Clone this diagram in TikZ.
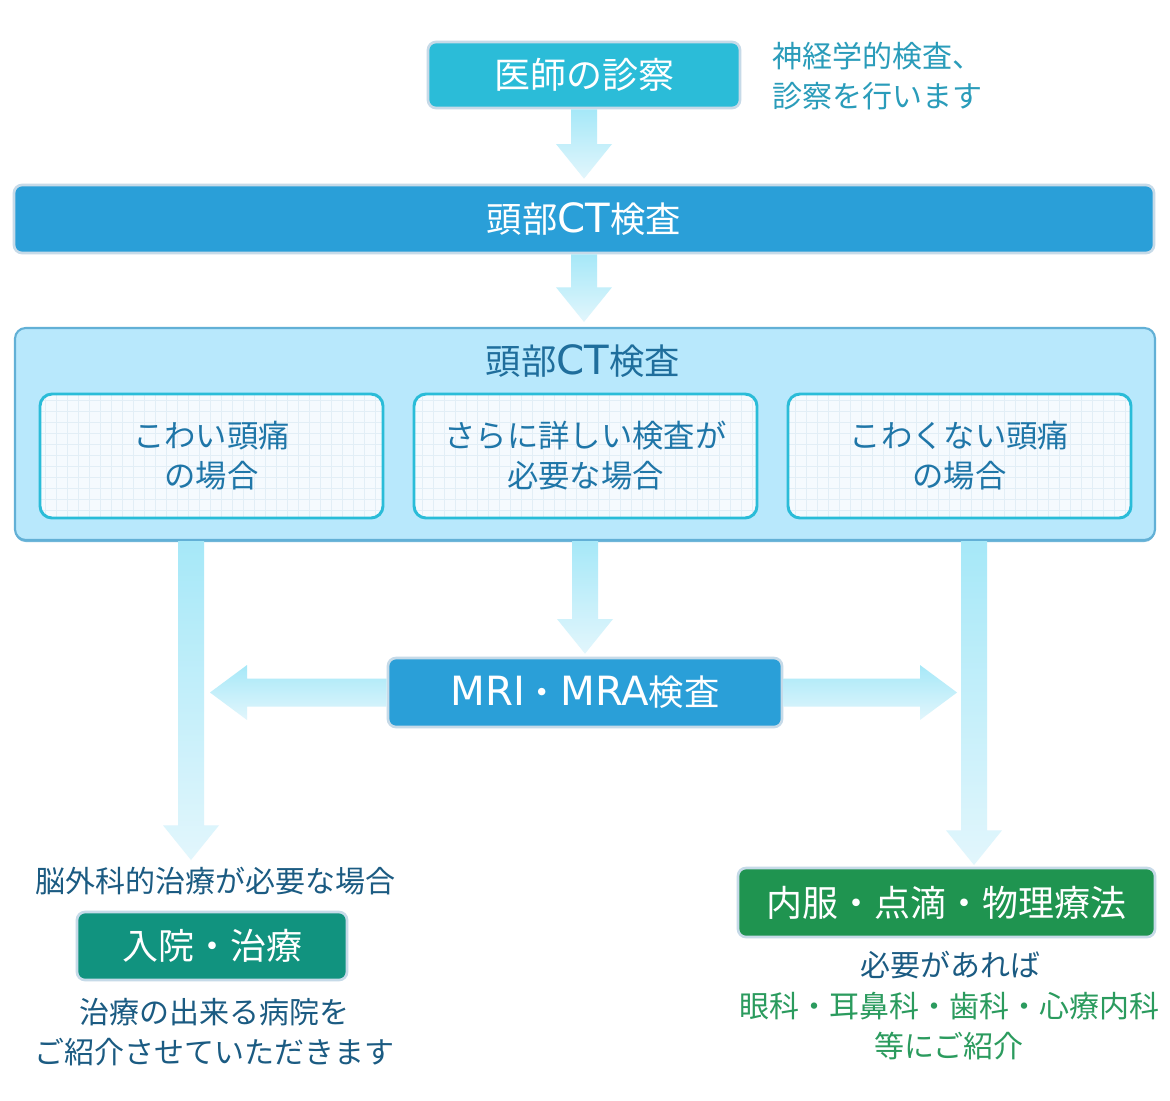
\documentclass[tikz,border=0pt]{standalone}
\usepackage{fontspec}
\setmainfont{Noto Sans CJK JP}
\newfontfamily\latinf[Scale=1.14]{DejaVu Sans}
\usetikzlibrary{calc,shadows}
\definecolor{docc}{HTML}{2BBCD8}
\definecolor{ctblue}{HTML}{2A9FD8}
\definecolor{haloc}{HTML}{C6DAE8}
\definecolor{bigfill}{HTML}{B8E8FC}
\definecolor{bigborder}{HTML}{62B0D6}
\definecolor{innerborder}{HTML}{2ABCD8}
\definecolor{innerfill}{HTML}{F5FAFE}
\definecolor{gridc}{HTML}{E2EEF6}
\definecolor{innertext}{HTML}{1F76A8}
\definecolor{titletext}{HTML}{1F6E9C}
\definecolor{sidetext}{HTML}{2A9CBA}
\definecolor{darktext}{HTML}{1B5B82}
\definecolor{tealc}{HTML}{11937F}
\definecolor{greenc}{HTML}{1F9450}
\definecolor{greentext}{HTML}{2B9B5E}
\definecolor{arrowtop}{HTML}{A6E8F8}
\definecolor{arrowbot}{HTML}{E2F6FC}
\newcommand\fsL{\fontsize{27pt}{32pt}\selectfont}
\newcommand\fsT{\fontsize{26.5pt}{30pt}\selectfont}
\newcommand\fsM{\fontsize{23.5pt}{30pt}\selectfont}
\newcommand\fsS{\fontsize{22.5pt}{30pt}\selectfont}
\newcommand\vflowarrow[2]{\path[flow] let \p1=(#1), \p2=(#2) in
  (\x1-9.75pt,\y1) -- (\x1-9.75pt,\y2+26pt) -- (\x1-21pt,\y2+26pt) -- (\x1,\y2)
  -- (\x1+21pt,\y2+26pt) -- (\x1+9.75pt,\y2+26pt) -- (\x1+9.75pt,\y1) -- cycle;}
\newcommand\hflowarrow[3]{\path[flow] let \p1=(#1), \p2=(#2), \n1={#3} in
  (\x1,\y1+10.5pt) -- ({\x2-\n1},\y1+10.5pt) -- ({\x2-\n1},\y1+20.6pt) -- (\x2,\y1)
  -- ({\x2-\n1},\y1-20.6pt) -- ({\x2-\n1},\y1-10.5pt) -- (\x1,\y1-10.5pt) -- cycle;}
\begin{document}
\begin{tikzpicture}[x=0.75pt,y=-0.75pt,
  flow/.style={top color=arrowtop, bottom color=arrowbot, draw=none},
  solidbox/.style={rounded corners=6pt, draw=haloc, line width=2pt, text=white, inner sep=0pt, font=\fsL},
  innerbox/.style={rounded corners=9pt, draw=innerborder, line width=2.2pt, fill=innerfill,
    minimum width=257.25pt, minimum height=93pt, inner sep=0pt, text=innertext, align=center,
    font=\fsM,
    path picture={\draw[gridc, line width=0.5pt] (path picture bounding box.south west) grid[step=8.25pt] (path picture bounding box.north east);}},
  plaintext/.style={inner sep=0pt, align=center}
]
\useasboundingbox[fill=white] (0,0) rectangle (1170,1100);

% top
\node[solidbox, fill=docc, minimum width=234pt, minimum height=49.5pt] (doc) at (584,75) {医師の診察};
\node[plaintext, anchor=west, align=left, text=sidetext, font=\fsS] (side) at (772,76)
  {神経学的検査、\\診察を行います};

\node[solidbox, fill=ctblue, minimum width=855pt, minimum height=51pt, font=\fsT] (ct) at (584,219) {頭部{\latinf CT}検査};

% big box
\node[rounded corners=8pt, draw=bigborder, line width=1.6pt, fill=bigfill,
  minimum width=855pt, minimum height=159pt, inner sep=0pt,
  drop shadow={shadow xshift=0pt, shadow yshift=-1.5pt, fill=bigborder, opacity=0.9}] (big) at (585,434) {};
\node[plaintext, text=titletext, font=\fsT] (bigtitle) at (583,361) {頭部{\latinf CT}検査};
\node[innerbox] (in1) at (211.5,456) {こわい頭痛\\の場合};
\node[innerbox] (in2) at (585.5,456) {さらに詳しい検査が\\必要な場合};
\node[innerbox] (in3) at (959.5,456) {こわくない頭痛\\の場合};

% MRI
\node[solidbox, fill=ctblue, minimum width=295.5pt, minimum height=51.75pt, font=\fsT] (mri) at (585,692.5) {{\latinf MRI}・{\latinf MRA}検査};

% bottom left
\node[plaintext, text=darktext, font=\fsS] (needsurg) at (215,881) {脳外科的治療が必要な場合};
\node[solidbox, fill=tealc, minimum width=202.5pt, minimum height=51pt] (hosp) at (212,946) {入院・治療};
\node[plaintext, text=darktext, font=\fsS] (refer) at (214,1032) {治療の出来る病院を\\ご紹介させていただきます};

% bottom right
\node[solidbox, fill=greenc, minimum width=312.75pt, minimum height=51.75pt] (med) at (946.5,902.5) {内服・点滴・物理療法};
\node[plaintext, text=darktext, font=\fsS] (ifneed) at (950,965) {必要があれば};
\node[plaintext, text=greentext, font=\fsS] (depts) at (949,1026) {眼科・耳鼻科・歯科・心療内科\\等にご紹介};

% connectors
\coordinate (t1) at ($(ct.north)+(0,-5)$);
\vflowarrow{doc.south}{t1}
\coordinate (t2) at ($(big.north)+(0,-5)$);
\vflowarrow{ct.south}{t2}
\coordinate (ls) at (191,541);
\coordinate (lt) at (191,860);
\vflowarrow{ls}{lt}
\coordinate (ms) at (585,541);
\coordinate (mt) at ($(mri.north)+(0,-3)$);
\vflowarrow{ms}{mt}
\coordinate (rs) at (974,541);
\coordinate (rt) at (974,865);
\vflowarrow{rs}{rt}
\coordinate (hl) at (210,692);
\hflowarrow{mri.west}{hl}{-27.75}
\coordinate (hr) at (957,692);
\hflowarrow{mri.east}{hr}{27.75}
\end{tikzpicture}
\end{document}
